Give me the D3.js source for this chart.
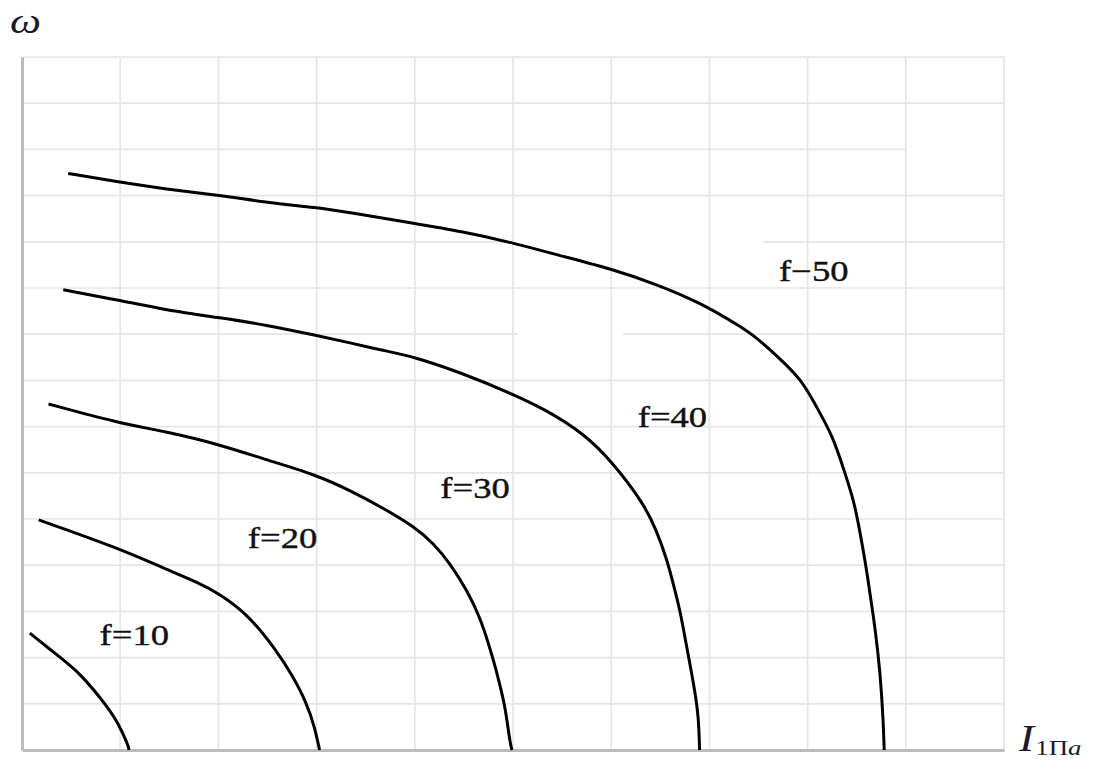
<!DOCTYPE html>
<html>
<head>
<meta charset="utf-8">
<script src="https://cdn.jsdelivr.net/npm/d3@7"></script>
<style>
  html, body { margin: 0; padding: 0; background: #fff; }
  svg { display: block; }
</style>
</head>
<body>
<svg id="chart" width="1099" height="761"></svg>
<script>
// Grid divisions (no numeric tick labels are printed)
const xTicks = d3.range(0, 11);
const yTicks = d3.range(0, 16);

// Mechanical characteristics ω(I) for each supply frequency
const freqs = [10, 20, 30, 40, 50];
const curveF10 = [[0.08,2.53],[0.42,1.95],[0.59,1.66],[0.86,0.97],[0.98,0.58],[1.08,0.11],[1.09,0]];
const curveF20 = [[0.17,4.98],[0.98,4.37],[1.47,3.91],[1.81,3.61],[2.00,3.39],[2.29,2.96],[2.59,2.16],[2.76,1.59],[2.90,1.01],[2.98,0.50],[3.03,0]];
const curveF30 = [[0.27,7.49],[0.98,7.08],[1.47,6.89],[2.00,6.62],[2.49,6.28],[2.98,5.97],[3.37,5.59],[3.65,5.27],[4.00,4.83],[4.19,4.47],[4.36,4.04],[4.53,3.46],[4.66,2.89],[4.75,2.31],[4.82,1.80],[4.87,1.37],[4.92,0.94],[4.97,0.15],[4.99,0]];
const curveF40 = [[0.42,9.96],[0.98,9.74],[1.47,9.52],[2.00,9.36],[2.49,9.20],[2.98,8.98],[3.37,8.80],[3.65,8.66],[4.00,8.51],[4.49,8.15],[4.98,7.72],[5.34,7.36],[5.72,6.85],[6.01,6.24],[6.33,5.34],[6.46,4.76],[6.57,4.11],[6.63,3.61],[6.70,3.03],[6.75,2.45],[6.80,1.88],[6.85,1.30],[6.89,0.72],[6.90,0]];
const curveF50 = [[0.47,12.48],[0.96,12.30],[1.47,12.14],[2.00,12.01],[2.56,11.83],[2.98,11.75],[3.37,11.62],[3.99,11.40],[4.49,11.22],[4.98,10.99],[5.46,10.71],[6.01,10.41],[6.46,10.08],[6.91,9.68],[7.32,9.16],[7.46,8.96],[7.71,8.49],[7.94,8.01],[8.09,7.43],[8.26,6.78],[8.37,6.06],[8.47,5.41],[8.53,4.76],[8.59,4.04],[8.64,3.32],[8.69,2.60],[8.74,1.66],[8.77,0.65],[8.78,0]];
const curveLabels = ["f=10", "f=20", "f=30", "f=40", "f\u221250"];

const curves = [curveF10, curveF20, curveF30, curveF40, curveF50];

const svg = d3.select("#chart");
const plotLeft = 22, plotRight = 1004, plotTop = 57, plotBottom = 750;

const x = d3.scaleLinear().domain([0, 10]).range([plotLeft, plotRight]);
const y = d3.scaleLinear().domain([0, 15]).range([plotBottom, plotTop]);

// horizontal grid rows, some of them drawn only partly: [from, to] pieces in x units
const rowPieces = d => {
  if (d === 13) return [[0, 9]];
  if (d === 11) return [[0, 5], [7.55, 10]];
  if (d === 9) return [[0, 5.05], [6.12, 10]];
  return [[0, 10]];
};

// light grid
const grid = svg.append("g").attr("stroke", "#e5e5e5").attr("stroke-width", 1.7).attr("fill", "none");
grid.selectAll("line.v").data(xTicks.slice(1)).join("line")
  .attr("class", "v")
  .attr("x1", d => x(d)).attr("x2", d => x(d))
  .attr("y1", y(15)).attr("y2", y(0));
grid.selectAll("line.h")
  .data(yTicks.slice(1).flatMap(d => rowPieces(d).map(p => ({ v: d, a: p[0], b: p[1] }))))
  .join("line")
  .attr("class", "h")
  .attr("x1", d => x(d.a)).attr("x2", d => x(d.b))
  .attr("y1", d => y(d.v)).attr("y2", d => y(d.v));

// axes: plain lines without tick labels
const xAxis = d3.axisBottom(x).tickValues([]).tickSize(0).tickSizeOuter(0);
const yAxis = d3.axisLeft(y).tickValues([]).tickSize(0).tickSizeOuter(0);
const gx = svg.append("g").attr("transform", `translate(0,${y(0)})`).call(xAxis);
const gy = svg.append("g").attr("transform", `translate(${x(0)},0)`).call(yAxis);
[gx, gy].forEach(g => g.select(".domain").attr("stroke", "#bcbcbc").attr("stroke-width", 3));

// curves (B-spline through the traced points)
const line = d3.line()
  .x(d => x(d[0]))
  .y(d => y(d[1]))
  .curve(d3.curveBasis);

svg.append("g").selectAll("path").data(curves).join("path")
  .attr("d", line)
  .attr("fill", "none")
  .attr("stroke", "#000")
  .attr("stroke-width", 3)
  .attr("stroke-linejoin", "round");

// curve labels, anchored in data units
const labelAt = [[0.79, 2.27], [2.30, 4.37], [4.26, 5.45], [6.27, 6.99], [7.71, 10.15]];
const stretch = 1.22;
svg.append("g").selectAll("text").data(curveLabels).join("text")
  .attr("transform", (d, i) => `translate(${x(labelAt[i][0])},${y(labelAt[i][1])}) scale(${stretch},1)`)
  .attr("font-family", "Liberation Serif, Times New Roman, serif")
  .attr("font-size", 30)
  .attr("fill", "#111")
  .attr("stroke", "#111")
  .attr("stroke-width", 0.4)
  .text(d => d);

// axis titles
svg.append("text")
  .attr("transform", `translate(10,33) scale(${stretch},1)`)
  .attr("font-family", "Liberation Serif, Times New Roman, serif")
  .attr("font-style", "italic")
  .attr("font-size", 36)
  .attr("fill", "#1a1a2a")
  .text("\u03C9");

const xt = svg.append("text")
  .attr("transform", `translate(1019,751) scale(${stretch},1)`)
  .attr("font-family", "Liberation Serif, Times New Roman, serif")
  .attr("font-size", 37)
  .attr("fill", "#1a1a2a");
xt.append("tspan").attr("font-style", "italic").text("I");
xt.append("tspan").attr("font-size", 22).attr("dy", 4).attr("dx", 1).text("1\u041F");
xt.append("tspan").attr("font-size", 22).attr("font-style", "italic").text("a");
</script>
</body>
</html>
